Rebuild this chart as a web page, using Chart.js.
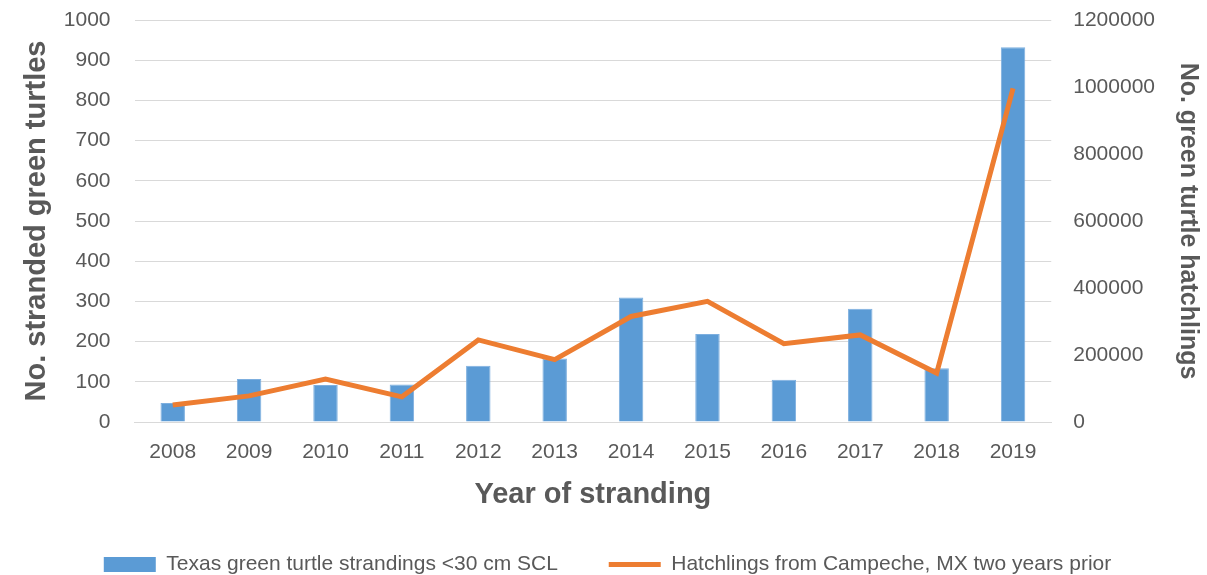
<!DOCTYPE html>
<html>
<head>
<meta charset="utf-8">
<script src="https://cdn.jsdelivr.net/npm/chart.js@4"></script>
<style>
  html, body { margin: 0; padding: 0; background: #fff; }
  #wrap { width: 1207px; height: 575px; }
</style>
</head>
<body>
<div id="wrap"><canvas id="chart" width="1207" height="575"></canvas></div>
<script>
const years = ['2008', '2009', '2010', '2011', '2012', '2013', '2014', '2015', '2016', '2017', '2018', '2019'];
const strandings = [47, 107, 92, 93, 140, 158, 310, 219, 105, 282, 134, 932];
const hatchlings = [51000, 78000, 128000, 75000, 245000, 186000, 315000, 360000, 234000, 260000, 146000, 996000];

const gray = '#595959';
const family = "'Liberation Sans', Arial, sans-serif";
const tickFont = { family: family, size: 21 };

// plain numbers on the axes, no thousands separators
function plain(value) {
    return String(value);
}

const ctx = document.getElementById('chart').getContext('2d');
const chart = new Chart(ctx, {
    data: {
        labels: years,
        datasets: [{
            type: 'line',
            label: 'Hatchlings from Campeche, MX two years prior',
            data: hatchlings,
            yAxisID: 'y2',
            borderColor: '#ED7D31',
            backgroundColor: '#ED7D31',
            borderWidth: 5,
            pointRadius: 0,
            tension: 0,
            order: 1
        }, {
            type: 'bar',
            label: 'Texas green turtle strandings <30 cm SCL',
            data: strandings,
            yAxisID: 'y',
            backgroundColor: '#5B9BD5',
            borderColor: '#7DAFDF',
            borderWidth: 1,
            categoryPercentage: 1,
            barPercentage: 0.32,
            order: 2
        }]
    },
    options: {
        responsive: false,
        animation: false,
        layout: { padding: { left: 10, right: 2, top: 20, bottom: -10 } },
        scales: {
            x: {
                grid: { display: false, tickLength: 8 },
                border: { color: '#d9d9d9', width: 1 },
                ticks: { color: gray, font: tickFont, padding: 10 },
                title: {
                    display: true,
                    text: 'Year of stranding',
                    color: gray,
                    font: { family: family, size: 29, weight: 'bold' },
                    padding: { top: 2, bottom: 39 }
                }
            },
            y: {
                position: 'left',
                min: 0,
                max: 1000,
                ticks: { stepSize: 100, color: gray, font: tickFont, padding: 0, callback: plain },
                grid: { color: '#d9d9d9', lineWidth: 1, drawTicks: true, tickLength: 24, tickColor: 'rgba(0,0,0,0)' },
                border: { display: false },
                title: {
                    display: true,
                    text: 'No. stranded green turtles',
                    color: gray,
                    font: { family: family, size: 29, weight: 'bold' },
                    padding: { top: 10, bottom: 9 }
                }
            },
            y2: {
                position: 'right',
                min: 0,
                max: 1200000,
                ticks: { stepSize: 200000, color: gray, font: tickFont, padding: 0, callback: plain },
                grid: { display: false, drawTicks: true, tickLength: 22 },
                border: { display: false },
                title: {
                    display: true,
                    text: 'No. green turtle hatchlings',
                    color: gray,
                    font: { family: family, size: 25, weight: 'bold' },
                    padding: { top: 2, bottom: 18 }
                }
            }
        },
        plugins: {
            tooltip: { enabled: false },
            legend: {
                position: 'bottom',
                reverse: true,
                labels: {
                    color: gray,
                    font: { family: family, size: 21 },
                    usePointStyle: true,
                    pointStyleWidth: 52,
                    boxWidth: 52,
                    boxHeight: 15,
                    padding: 3,
                    generateLabels: function(c) {
                        const items = Chart.defaults.plugins.legend.labels.generateLabels(c);
                        items.forEach(function(it) {
                            const ds = c.data.datasets[it.datasetIndex];
                            if (ds.type === 'line') {
                                it.pointStyle = 'line';
                                it.lineWidth = 5;
                                it.strokeStyle = '#ED7D31';
                            } else {
                                it.pointStyle = 'rect';
                                it.lineWidth = 0;
                                it.fillStyle = '#5B9BD5';
                                // trailing blank space keeps the two entries apart like the original
                                it.text = it.text + '\u2003\u2003 ';
                            }
                        });
                        return items;
                    }
                }
            }
        }
    }
});
</script>
</body>
</html>
